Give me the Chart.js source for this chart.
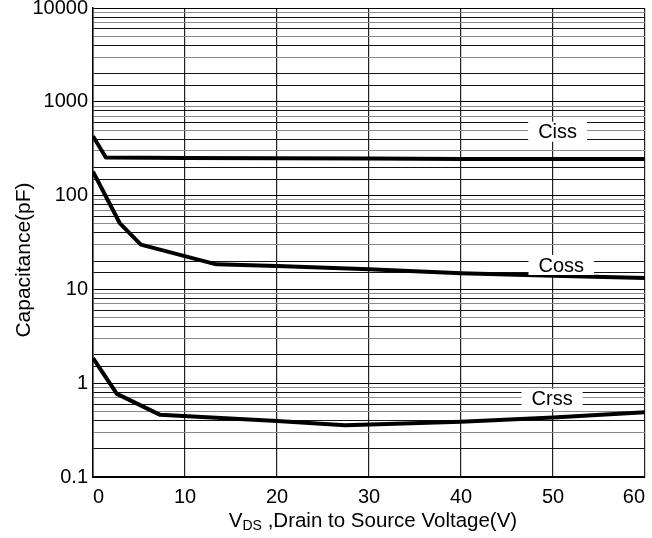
<!DOCTYPE html>
<html>
<head>
<meta charset="utf-8">
<script src="https://cdn.jsdelivr.net/npm/chart.js@4.4.0/dist/chart.umd.min.js"></script>
<style>
  html, body { margin: 0; padding: 0; background: #fff; }
  canvas { display: block; }
</style>
</head>
<body>
<canvas id="capChart" width="652" height="538"></canvas>
<script>
// values
const cissV = [0, 1.4, 10, 20, 30, 40, 50, 60];
const cissC = [430, 255, 252, 250, 248, 246, 245, 246];

const cossV = [0, 2.9, 5.2, 13.4, 20, 30, 40, 50, 60];
const cossC = [180, 51, 30, 18.5, 17.8, 16.4, 14.9, 14.0, 13.2];

const crssV = [0, 2.6, 7.3, 20, 27.4, 40, 50, 60];
const crssC = [1.85, 0.77, 0.46, 0.395, 0.357, 0.389, 0.43, 0.49];

const xTicks = [0, 10, 20, 30, 40, 50, 60];
const yTickLabels = ['0.1', '1', '10', '100', '1000', '10000'];

const curveNames = ['Ciss', 'Coss', 'Crss'];
// where each curve name sits, in data units (V, pF)
const nameAtV = [50.5, 50.9, 49.9];
const nameAtC = [480, 18.2, 0.68];

const FONT = '"Liberation Sans", Arial, sans-serif';

function pts(xs, ys) {
  return xs.map((x, i) => ({ x: x, y: ys[i] }));
}

function isDecade(v) {
  const l = Math.log10(v);
  return Math.abs(l - Math.round(l)) < 1e-6;
}

const labelsPlugin = {
  id: 'curveLabels',
  afterDatasetsDraw(chart) {
    const ctx = chart.ctx;
    const xs = chart.scales.x, ys = chart.scales.y;
    ctx.save();
    ctx.font = '20px ' + FONT;
    ctx.textAlign = 'center';
    ctx.textBaseline = 'middle';
    curveNames.forEach((name, i) => {
      const px = xs.getPixelForValue(nameAtV[i]);
      const py = ys.getPixelForValue(nameAtC[i]);
      const w = ctx.measureText(name).width + 20;
      ctx.fillStyle = '#fff';
      ctx.fillRect(px - w / 2, py - 10, w, 20);
      ctx.fillStyle = '#000';
      ctx.fillText(name, px, py + 1);
    });
    ctx.restore();
  },
  afterDraw(chart) {
    const ctx = chart.ctx;
    const area = chart.chartArea;
    ctx.save();
    ctx.fillStyle = '#000';
    ctx.textBaseline = 'alphabetic';

    // y title
    ctx.font = '21px ' + FONT;
    ctx.textAlign = 'center';
    ctx.translate(30, 260);
    ctx.rotate(-Math.PI / 2);
    ctx.fillText('Capacitance(pF)', 0, 0);
    ctx.setTransform(1, 0, 0, 1, 0, 0);
    ctx.scale(chart.currentDevicePixelRatio, chart.currentDevicePixelRatio);

    // x title with subscript
    const big = '20.5px ' + FONT, small = '14px ' + FONT;
    ctx.textAlign = 'left';
    ctx.font = big;
    const wV = ctx.measureText('V').width;
    const rest = ' ,Drain to Source Voltage(V)';
    const wRest = ctx.measureText(rest).width;
    ctx.font = small;
    const wDS = ctx.measureText('DS').width;
    const total = wV + wDS + wRest;
    let x = (area.left + area.right) / 2 + 4 - total / 2;
    const base = chart.height - 11;
    ctx.font = big;
    ctx.fillText('V', x, base);
    x += wV;
    ctx.font = small;
    ctx.fillText('DS', x, base + 3);
    x += wDS;
    ctx.font = big;
    ctx.fillText(rest, x, base);
    ctx.restore();
  }
};

new Chart(document.getElementById('capChart'), {
  type: 'line',
  data: {
    datasets: [
      { label: 'Ciss', data: pts(cissV, cissC) },
      { label: 'Coss', data: pts(cossV, cossC) },
      { label: 'Crss', data: pts(crssV, crssC) }
    ].map(d => Object.assign(d, {
      borderColor: '#000',
      borderWidth: 4,
      pointRadius: 0,
      tension: 0,
      fill: false,
      borderJoinStyle: 'round'
    }))
  },
  options: {
    responsive: false,
    animation: false,
    layout: { padding: { top: 8, right: 7, left: 0, bottom: 0 } },
    plugins: {
      legend: { display: false },
      tooltip: { enabled: false }
    },
    scales: {
      x: {
        type: 'linear',
        min: 0,
        max: 60,
        afterBuildTicks(scale) {
          scale.ticks = xTicks.map(v => ({ value: v }));
        },
        afterFit(scale) {
          scale.height = 61;
          scale.paddingLeft = 0;
          scale.paddingRight = 0;
        },
        ticks: {
          align: 'inner',
          padding: 8,
          color: '#000',
          font: { family: FONT, size: 20 }
        },
        grid: { color: '#222', lineWidth: 1.2, drawTicks: false },
        border: { color: '#000', width: 1.5 }
      },
      y: {
        type: 'logarithmic',
        min: 0.1,
        max: 10000,
        afterFit(scale) {
          scale.width = 93;
          scale.paddingTop = 0;
          scale.paddingBottom = 0;
        },
        ticks: {
          autoSkip: false,
          padding: 5,
          color: '#000',
          font: { family: FONT, size: 20 },
          callback(v) {
            if (!isDecade(v)) return '';
            return yTickLabels[Math.round(Math.log10(v)) + 1];
          }
        },
        grid: {
          drawTicks: false,
          lineWidth: 1,
          color(ctx) {
            const v = ctx.tick.value;
            if (isDecade(v)) return '#000';
            const m = Math.round(v / Math.pow(10, Math.floor(Math.log10(v) + 1e-9)));
            return m % 2 === 0 ? '#111' : '#8a8a8a';
          }
        },
        border: { color: '#000', width: 1.5 }
      }
    }
  },
  plugins: [labelsPlugin]
});
</script>
</body>
</html>
